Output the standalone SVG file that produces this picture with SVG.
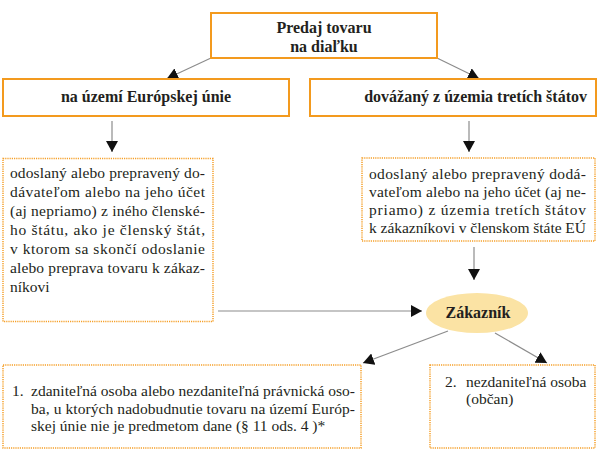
<svg xmlns="http://www.w3.org/2000/svg" width="600" height="458" viewBox="0 0 600 458" font-family="Liberation Serif, Times New Roman, serif">
<style>
  text { font-family: "Liberation Serif", "Times New Roman", Times, serif; }
  .t { font-size: 15.5px; fill: #231F20; }
  .b { font-size: 16px; font-weight: bold; fill: #231F20; }
  .solid { fill: #FFFFFF; stroke: #F39A1E; stroke-width: 2; }
  .dot { fill: none; stroke: #F5A02A; stroke-width: 1.5; stroke-dasharray: 1.2 1; }
  .con { stroke: #8C8C8C; stroke-width: 1.2; fill: none; marker-end: url(#ah); }
</style>
<defs>
  <marker id="ah" markerUnits="userSpaceOnUse" markerWidth="12" markerHeight="12" refX="11" refY="6" orient="auto">
    <path d="M0,0 L11,6 L0,12 z" fill="#111111"/>
  </marker>
</defs>
<rect width="600" height="458" fill="#FFFFFF"/>
<g id="connectors">
  <line class="con" x1="211" y1="58" x2="167" y2="78.5"/>
  <line class="con" x1="437" y1="58" x2="479" y2="78.5"/>
  <line class="con" x1="112" y1="121" x2="112" y2="152"/>
  <line class="con" x1="469" y1="121" x2="469" y2="152"/>
  <line class="con" x1="474" y1="247" x2="474" y2="280"/>
  <line class="con" x1="218" y1="311" x2="422" y2="311"/>
  <line class="con" x1="448" y1="331" x2="363" y2="363"/>
  <line class="con" x1="495" y1="333" x2="547" y2="363"/>
</g>
<g id="node-predaj">
  <rect class="solid" x="211" y="13" width="226" height="45"/>
  <text class="b" x="324" y="33" text-anchor="middle">Predaj tovaru</text>
  <text class="b" x="324" y="52" text-anchor="middle">na diaľku</text>
</g>
<g id="node-eu">
  <rect class="solid" x="3" y="79" width="286" height="37"/>
  <text class="b" x="146" y="102" text-anchor="middle">na území Európskej únie</text>
</g>
<g id="node-tretie">
  <rect class="solid" x="310" y="79" width="286" height="37"/>
  <text class="b" x="587" y="102" text-anchor="end">dovážaný z územia tretích štátov</text>
</g>
<g id="node-eu-popis">
  <rect class="dot" x="3" y="158.5" width="210" height="163"/>
  <text class="t" x="10" y="178" textLength="195" lengthAdjust="spacing">odoslaný alebo prepravený do-</text>
  <text class="t" x="10" y="197" textLength="195" lengthAdjust="spacing">dávateľom alebo na jeho účet</text>
  <text class="t" x="10" y="216" textLength="195" lengthAdjust="spacing">(aj nepriamo) z iného členské-</text>
  <text class="t" x="10" y="235" textLength="195" lengthAdjust="spacing">ho štátu, ako je členský štát,</text>
  <text class="t" x="10" y="254" textLength="195" lengthAdjust="spacing">v ktorom sa skončí odoslanie</text>
  <text class="t" x="10" y="273" textLength="195" lengthAdjust="spacing">alebo preprava tovaru k zákaz-</text>
  <text class="t" x="10" y="292">níkovi</text>
</g>
<g id="node-tretie-popis">
  <rect class="dot" x="362" y="158" width="233" height="83"/>
  <text class="t" x="369" y="178.5" textLength="217" lengthAdjust="spacing">odoslaný alebo prepravený dodá-</text>
  <text class="t" x="369" y="196.5" textLength="217" lengthAdjust="spacing">vateľom alebo na jeho účet (aj ne-</text>
  <text class="t" x="369" y="214.5" textLength="217" lengthAdjust="spacing">priamo) z územia tretích štátov</text>
  <text class="t" x="369" y="232.5" textLength="217" lengthAdjust="spacing">k zákazníkovi v členskom štáte EÚ</text>
</g>
<g id="node-zakaznik">
  <ellipse cx="477" cy="313" rx="51" ry="20" fill="#FBE3A4"/>
  <text class="b" x="478" y="318" text-anchor="middle">Zákazník</text>
</g>
<g id="node-zdanitelna">
  <rect class="dot" x="3" y="365" width="358" height="83"/>
  <text class="t" x="12" y="396">1.</text>
  <text class="t" x="31" y="396" textLength="324" lengthAdjust="spacing">zdaniteľná osoba alebo nezdaniteľná právnická oso-</text>
  <text class="t" x="31" y="413.5" textLength="324" lengthAdjust="spacing">ba, u ktorých nadobudnutie tovaru na území Európ-</text>
  <text class="t" x="31" y="431">skej únie nie je predmetom dane (§ 11 ods. 4 )*</text>
</g>
<g id="node-nezdanitelna">
  <rect class="dot" x="430" y="365" width="165" height="83"/>
  <text class="t" x="445" y="386.5">2.</text>
  <text class="t" x="466" y="386.5">nezdaniteľná osoba</text>
  <text class="t" x="466" y="404">(občan)</text>
</g>
</svg>
